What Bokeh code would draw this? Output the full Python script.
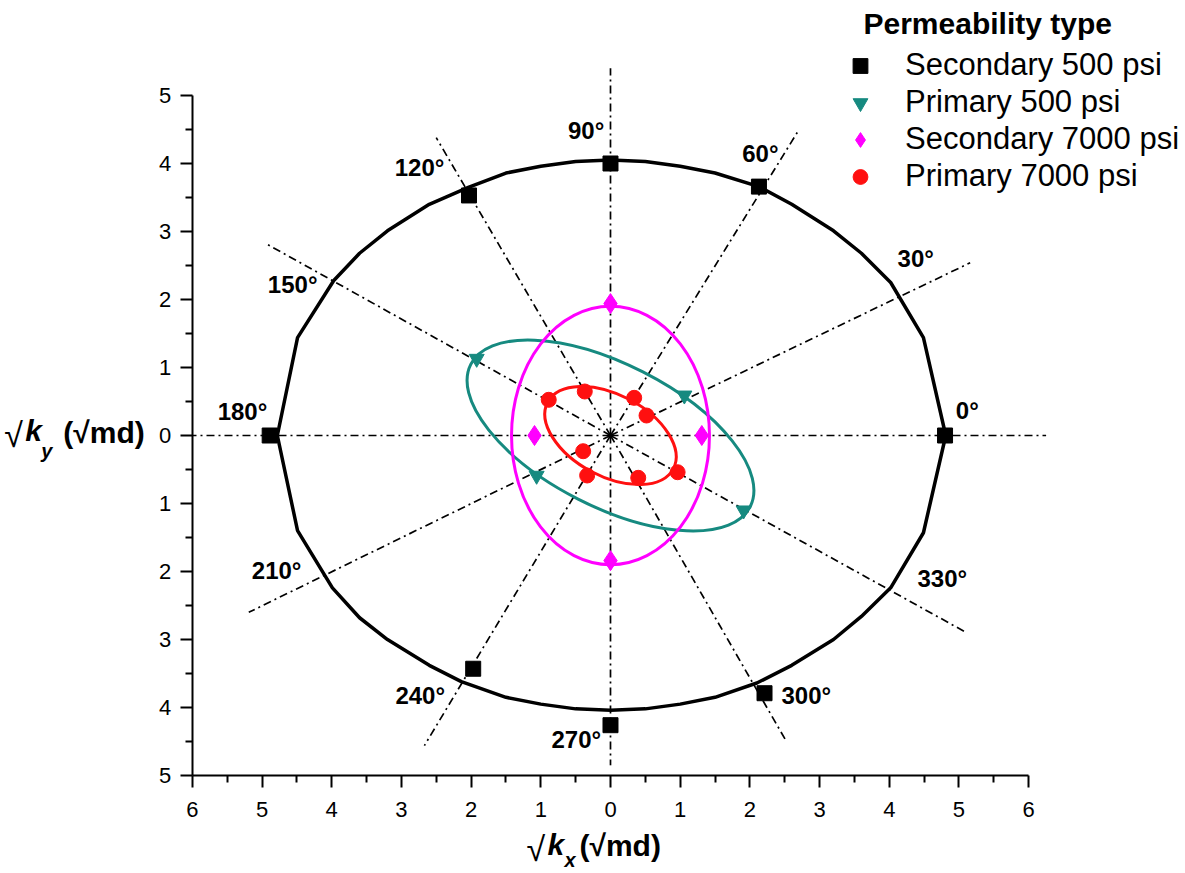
from bokeh.plotting import figure
from bokeh.models import Range1d, FixedTicker, Label, Legend, LegendItem
from bokeh.embed import file_html
from bokeh.resources import INLINE

# ---------------- data ----------------
# Secondary permeability, 500 psi (black squares)
sec500_x = [4.80, 2.13, 0.0, -2.03, -4.89, -1.97, 0.0, 2.21]
sec500_y = [0.0, 3.66, 4.00, 3.53, 0.0, -3.43, -4.26, -3.79]
# fitted curve through secondary 500 psi (polygon vertices)
sec500_fit_x = [4.81, 4.49, 4.02, 3.6, 3.2, 2.6, 2.13, 1.5, 1.0, 0.5, 0.0, -0.5, -1.0, -1.5, -2.04,
                -2.6, -3.2, -3.6, -3.97, -4.49, -4.78,
                -4.49, -3.99, -3.6, -3.2, -2.6, -2.14, -1.5, -1.0, -0.5, 0.0, 0.5, 1.0, 1.5, 2.10,
                2.6, 3.2, 3.6, 4.02, 4.49, 4.81]
sec500_fit_y = [0.0, 1.44, 2.25, 2.68, 3.01, 3.40, 3.66, 3.86, 3.96, 4.03, 4.05, 4.03, 3.96, 3.86, 3.65,
                3.40, 3.01, 2.68, 2.28, 1.44, 0.0,
                -1.40, -2.24, -2.68, -3.0, -3.38, -3.62, -3.85, -3.95, -4.02, -4.04, -4.02, -3.95, -3.85, -3.64,
                -3.38, -3.0, -2.66, -2.24, -1.43, 0.0]

# Primary permeability, 500 psi (teal triangles)
pri500_x = [-1.92, 1.06, -1.06, 1.91]
pri500_y = [1.13, 0.59, -0.59, -1.10]
pri500_ell = dict(w=4.5, h=2.1, angle=-27)

# Secondary permeability, 7000 psi (magenta diamonds)
sec7000_x = [0.0, -1.09, 1.31, 0.0]
sec7000_y = [1.94, 0.0, 0.0, -1.84]
sec7000_ell = dict(w=2.84, h=3.8, angle=0)

# Primary permeability, 7000 psi (red circles)
pri7000_x = [-0.886, -0.369, 0.34, 0.517, -0.392, -0.335, 0.398, 0.963]
pri7000_y = [0.525, 0.647, 0.554, 0.294, -0.231, -0.588, -0.622, -0.54]
pri7000_ell = dict(w=2.04, h=1.2, angle=-28)

# direction rays (dash-dot), end points
ray_end_x = [6.25, 5.16, 2.70, 0.0, -2.50, -4.94, -6.0, -5.19, -2.67, 0.0, 2.53, 5.11]
ray_end_y = [0.0, 2.54, 4.49, 5.40, 4.38, 2.82, 0.0, -2.60, -4.56, -4.85, -4.51, -2.90]

# direction labels
angle_text = ["0°", "30°", "60°", "90°", "120°", "150°", "180°", "210°", "240°", "270°", "300°", "330°"]
angle_lx = [5.12, 4.38, 2.15, -0.35, -2.74, -4.56, -5.28, -4.79, -2.73, -0.49, 2.81, 4.76]
angle_ly = [0.37, 2.60, 4.14, 4.48, 3.94, 2.22, 0.35, -1.99, -3.82, -4.47, -3.83, -2.11]

x_ticks = [-6, -5, -4, -3, -2, -1, 0, 1, 2, 3, 4, 5, 6]
y_ticks = [-5, -4, -3, -2, -1, 0, 1, 2, 3, 4, 5]
x_minor = [-5.5, -4.5, -3.5, -2.5, -1.5, -0.5, 0.5, 1.5, 2.5, 3.5, 4.5, 5.5]
y_minor = [-4.5, -3.5, -2.5, -1.5, -0.5, 0.5, 1.5, 2.5, 3.5, 4.5]

TEAL = "#168a80"
MAG = "#ff00ff"
RED = "#ff1010"
FONT = "Liberation Sans"

# ---------------- figure ----------------
# the frame fills the whole canvas; axes are drawn at fixed data positions
p = figure(width=1185, height=873,
           x_range=Range1d(-8.752, 8.250), y_range=Range1d(-6.441, 6.397),
           output_backend="svg", toolbar_location=None,
           min_border_left=0, min_border_right=0, min_border_top=0, min_border_bottom=0)
p.outline_line_color = None
p.xgrid.visible = False
p.ygrid.visible = False
p.background_fill_color = "white"

p.xaxis.fixed_location = -5
p.yaxis.fixed_location = -6
for ax, ticks, minor, bnds in ((p.xaxis[0], x_ticks, x_minor, (-6, 6)),
                               (p.yaxis[0], y_ticks, y_minor, (-5, 5))):
    ax.ticker = FixedTicker(ticks=ticks, minor_ticks=minor)
    ax.major_label_overrides = {t: str(abs(t)) for t in ticks}
    ax.bounds = bnds
    ax.axis_line_width = 2
    ax.axis_line_color = "black"
    ax.major_tick_line_width = 2
    ax.minor_tick_line_width = 2
    ax.major_tick_line_color = "black"
    ax.minor_tick_line_color = "black"
    ax.major_tick_out = 12
    ax.major_tick_in = 0
    ax.minor_tick_out = 7
    ax.minor_tick_in = 0
    ax.major_label_text_font = FONT
    ax.major_label_text_font_size = "22px"
    ax.major_label_text_color = "black"
p.xaxis.major_label_standoff = 14
p.yaxis.major_label_standoff = 9

# dash-dot direction rays
p.segment(x0=[0] * len(ray_end_x), y0=[0] * len(ray_end_y), x1=ray_end_x, y1=ray_end_y,
          line_color="black", line_width=1.7, line_dash="8 4 2 4")

# fitted curves
p.line(sec500_fit_x, sec500_fit_y, line_color="black", line_width=3.5)
p.ellipse(x=[0], y=[0], width=pri500_ell["w"], height=pri500_ell["h"], angle=pri500_ell["angle"],
          angle_units="deg", fill_color=None, line_color=TEAL, line_width=3)
p.ellipse(x=[0], y=[0], width=sec7000_ell["w"], height=sec7000_ell["h"], angle=sec7000_ell["angle"],
          angle_units="deg", fill_color=None, line_color=MAG, line_width=3)
p.ellipse(x=[0], y=[0], width=pri7000_ell["w"], height=pri7000_ell["h"], angle=pri7000_ell["angle"],
          angle_units="deg", fill_color=None, line_color=RED, line_width=3)

# data markers
r1 = p.scatter(sec500_x, sec500_y, marker="square", size=15, fill_color="black", line_color="black")
r2 = p.scatter(pri500_x, pri500_y, marker="inverted_triangle", size=15, fill_color=TEAL, line_color=TEAL)
r3 = p.scatter(sec7000_x, sec7000_y, marker="diamond", size=20, fill_color=MAG, line_color=MAG)
r4 = p.scatter(pri7000_x, pri7000_y, marker="circle", size=15, fill_color=RED, line_color=RED)

# direction labels
for t, lx, ly in zip(angle_text, angle_lx, angle_ly):
    p.add_layout(Label(x=lx, y=ly, text=t, text_align="center", text_baseline="middle",
                       text_font=FONT, text_font_style="bold", text_font_size="24px",
                       text_color="black"))

# legend
legend = Legend(items=[LegendItem(label="Secondary 500 psi", renderers=[r1]),
                       LegendItem(label="Primary 500 psi", renderers=[r2]),
                       LegendItem(label="Secondary 7000 psi", renderers=[r3]),
                       LegendItem(label="Primary 7000 psi", renderers=[r4])],
                location=(840, 678.5), orientation="vertical",
                padding=0, margin=0, spacing=0,
                glyph_width=40, glyph_height=37, label_height=37, label_standoff=25,
                label_text_font=FONT, label_text_font_size="31px", label_text_color="black",
                border_line_color=None, background_fill_alpha=0)
p.add_layout(legend)
p.add_layout(Label(x=3.63, y=6.06, text="Permeability type", text_align="left",
                   text_baseline="middle", text_font=FONT, text_font_style="bold",
                   text_font_size="30px", text_color="black"))

# axis titles built from pieces: sqrt, k (bold italic), subscript, (sqrt md)
def axis_title(ax_x, ax_y, sub, offs, yoffs):
    pieces = [("√", "normal", "34px", offs[0], yoffs[0]),
              ("k", "bold italic", "30px", offs[1], yoffs[1]),
              (sub, "bold italic", "20px", offs[2], yoffs[2]),
              ("(√md)", "bold", "30px", offs[3], yoffs[3])]
    for txt, style, size, xo, yo in pieces:
        p.add_layout(Label(x=ax_x, y=ax_y, x_offset=xo, y_offset=yo, text=txt,
                           text_align="left", text_baseline="middle",
                           text_font=FONT, text_font_style=style, text_font_size=size,
                           text_color="black"))

axis_title(-6, 0, "y", (-188, -167, -151, -129), (1, 5, -15, 3))
axis_title(0, -5, "x", (-84, -63, -46, -31), (-73, -69, -84, -70))

open("out.html", "w").write(file_html(p, INLINE))
